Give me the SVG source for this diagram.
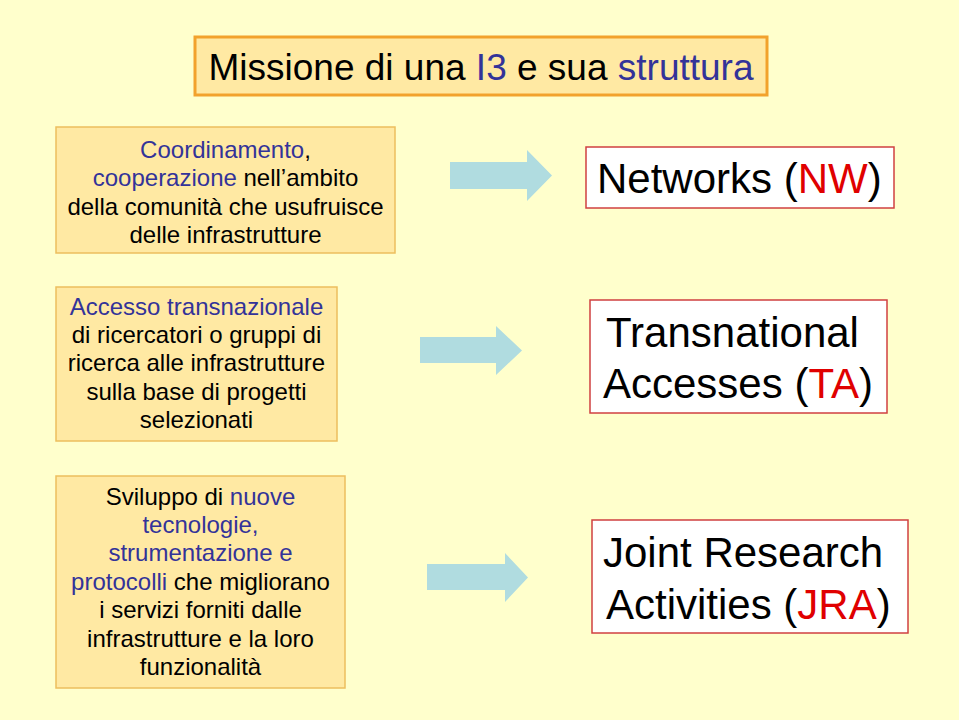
<svg xmlns="http://www.w3.org/2000/svg" width="959" height="720" viewBox="0 0 959 720">
<style>
.bg{fill:#FFFFCC}
.title{fill:#FFE9A3;stroke:#F2A22C;stroke-width:3}
.box{fill:#FFE9A3;stroke:#EDBE5E;stroke-width:1.5}
.out{fill:#FFFFFF;stroke:#D04040;stroke-width:1.5}
.arr{fill:#B0DCE0}
text{font-family:"Liberation Sans",Arial,sans-serif;fill:#000}
.t{font-size:37px}
.s{font-size:24px;text-anchor:middle}
.l{font-size:42px}
.b{fill:#333399}
.r{fill:#E00000}
</style>
<rect class="bg" x="0" y="0" width="959" height="720"/>
<g id="title">
<rect class="title" x="195" y="37" width="572" height="58"/>
<text class="t" x="481" y="80" text-anchor="middle">Missione di una <tspan class="b">I3</tspan> e sua <tspan class="b">struttura</tspan></text>
</g>
<g id="box1">
<rect class="box" x="56" y="127" width="339" height="126"/>
<text class="s" x="225.5" y="158"><tspan class="b">Coordinamento</tspan>,</text>
<text class="s" x="225.5" y="186"><tspan class="b">cooperazione</tspan> nell’ambito</text>
<text class="s" x="225.5" y="215">della comunità che usufruisce</text>
<text class="s" x="225.5" y="243">delle infrastrutture</text>
</g>
<g id="box2">
<rect class="box" x="56" y="287" width="281" height="154"/>
<text class="s" x="196.5" y="315"><tspan class="b">Accesso transnazionale</tspan></text>
<text class="s" x="196.5" y="343">di ricercatori o gruppi di</text>
<text class="s" x="196.5" y="371">ricerca alle infrastrutture</text>
<text class="s" x="196.5" y="400">sulla base di progetti</text>
<text class="s" x="196.5" y="428">selezionati</text>
</g>
<g id="box3">
<rect class="box" x="56" y="476" width="289" height="212"/>
<text class="s" x="200.5" y="505">Sviluppo di <tspan class="b">nuove</tspan></text>
<text class="s" x="200.5" y="533"><tspan class="b">tecnologie,</tspan></text>
<text class="s" x="200.5" y="561"><tspan class="b">strumentazione e</tspan></text>
<text class="s" x="200.5" y="590"><tspan class="b">protocolli</tspan> che migliorano</text>
<text class="s" x="200.5" y="618">i servizi forniti dalle</text>
<text class="s" x="200.5" y="647">infrastrutture e la loro</text>
<text class="s" x="200.5" y="675">funzionalità</text>
</g>
<g id="nw">
<rect class="out" x="586" y="147" width="308" height="61"/>
<text class="l" x="597" y="193">Networks (<tspan class="r">NW</tspan>)</text>
</g>
<g id="ta">
<rect class="out" x="590" y="300" width="297" height="113"/>
<text class="l" x="606" y="347">Transnational</text>
<text class="l" x="603" y="398">Accesses (<tspan class="r">TA</tspan>)</text>
</g>
<g id="jra">
<rect class="out" x="592" y="520" width="316" height="113"/>
<text class="l" x="603" y="567">Joint Research</text>
<text class="l" x="606" y="619">Activities (<tspan class="r">JRA</tspan>)</text>
</g>
<g id="connectors">
<polygon class="arr" points="450,162 527,162 527,150 552,175.5 527,201 527,189 450,189"/>
<polygon class="arr" points="420,337 496,337 496,326 522,350.5 496,375 496,363 420,363"/>
<polygon class="arr" points="427,564 505,564 505,553 528,577.5 505,602 505,590 427,590"/>
</g>
</svg>
